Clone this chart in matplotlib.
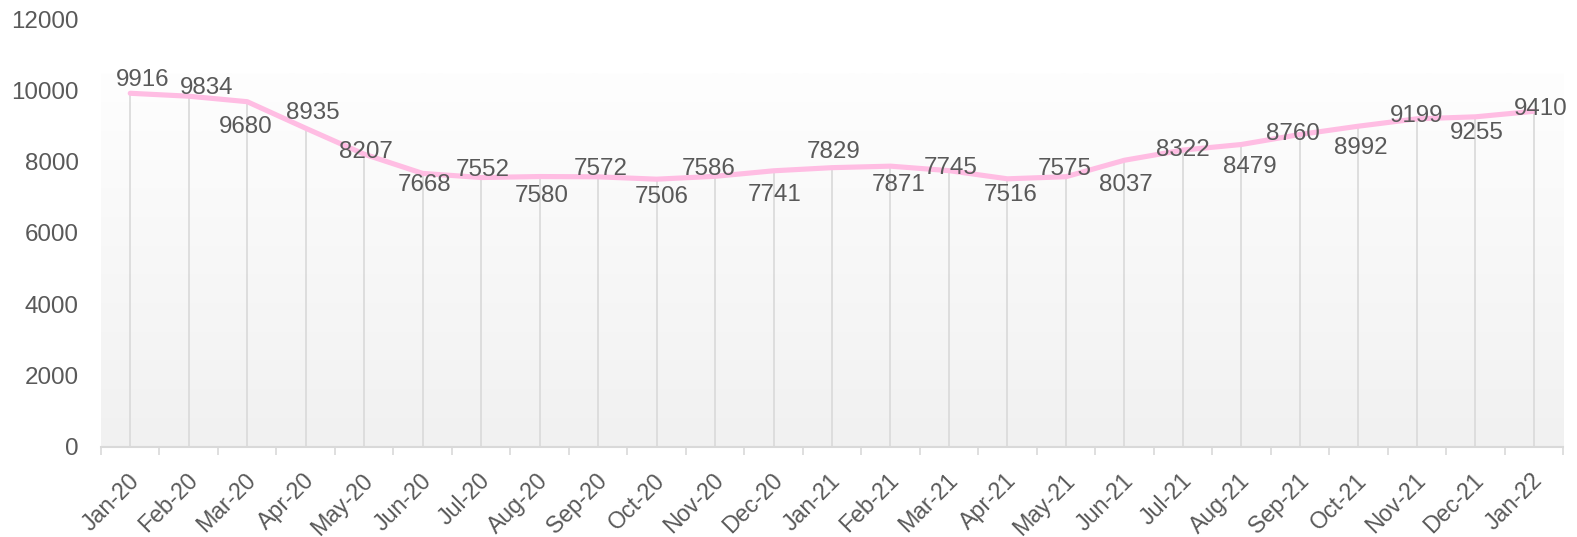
import numpy as np
import matplotlib.pyplot as plt
import matplotlib.transforms as mtransforms
from matplotlib.colors import LinearSegmentedColormap

# monthly values, Jan-20 .. Jan-22
months = ['Jan-20', 'Feb-20', 'Mar-20', 'Apr-20', 'May-20', 'Jun-20', 'Jul-20',
          'Aug-20', 'Sep-20', 'Oct-20', 'Nov-20', 'Dec-20', 'Jan-21', 'Feb-21',
          'Mar-21', 'Apr-21', 'May-21', 'Jun-21', 'Jul-21', 'Aug-21', 'Sep-21',
          'Oct-21', 'Nov-21', 'Dec-21', 'Jan-22']
values = [9916, 9834, 9680, 8935, 8207, 7668, 7552, 7580, 7572, 7506, 7586, 7741,
          7829, 7871, 7745, 7516, 7575, 8037, 8322, 8479, 8760, 8992, 9199, 9255, 9410]

# label offsets in pixels (dx, dy up), as the original chart placed them
label_dx = [12, 18, -2, 7, 2, 2, 2, 2, 3, 5, -6, 1, 2, 8, 2, 3, -1, 1, 0, 8, -7, 2, 0, 2, 7]
label_dy = [13, 8, -25, 15, 2, -12, 8, -19, 8, -18, 7, -24, 16, -19, 3, -16, 8, -25, 0, -23, 0, -22, 3, -16, 2]

text_color = '#595959'
fsize = 17.4
plt.rcParams['font.family'] = ['Liberation Sans', 'DejaVu Sans']

fig = plt.figure(figsize=(15.77, 5.37), dpi=100)
ax = fig.add_axes([101 / 1577, 1 - 446.7 / 537, 1462 / 1577, (446.7 - 19) / 537])

x = np.arange(len(values))
ax.set_xlim(-0.5, len(values) - 0.5)
ax.set_ylim(0, 12000)

# soft grey gradient behind the plot
cmap = LinearSegmentedColormap.from_list('bg', ['#f1f1f1', '#fefefe'])
ax.imshow(np.linspace(0, 1, 256).reshape(-1, 1), cmap=cmap, aspect='auto',
          origin='lower', extent=(-0.5, len(values) - 0.5, 0, 10480), zorder=0)

# drop lines from each point
ax.vlines(x, 0, values, color='#d9d9d9', linewidth=1.2, zorder=1)
ax.plot(x, values, color='#ffbde3', linewidth=3.7, solid_capstyle='round', zorder=2)

for i, v in enumerate(values):
    ax.annotate(str(v), (x[i], v), xytext=(label_dx[i], label_dy[i]),
                textcoords='offset pixels', ha='center', va='center',
                fontsize=fsize, color=text_color, zorder=3)

for s in ['top', 'right', 'left']:
    ax.spines[s].set_visible(False)
ax.spines['bottom'].set_color('#d9d9d9')
ax.spines['bottom'].set_linewidth(1.5)

ax.set_yticks(np.arange(0, 12001, 2000))
ax.tick_params(axis='y', length=0, pad=16, labelsize=fsize, labelcolor=text_color)

ax.set_xticks(np.arange(-0.5, len(values), 1))
ax.set_xticklabels([])
ax.set_xticks(x, minor=True)
ax.set_xticklabels(months, minor=True, rotation=45, ha='right',
                   rotation_mode='anchor', fontsize=16.7, color=text_color)
ax.tick_params(axis='x', which='major', length=6, width=1.2, color='#d9d9d9')
ax.tick_params(axis='x', which='minor', length=0, pad=16)
shift = mtransforms.ScaledTranslation(-3 / 100, 0, fig.dpi_scale_trans)
for lbl in ax.get_xticklabels(minor=True):
    lbl.set_transform(lbl.get_transform() + shift)

fig.savefig('out.png', dpi=100, facecolor='white')
